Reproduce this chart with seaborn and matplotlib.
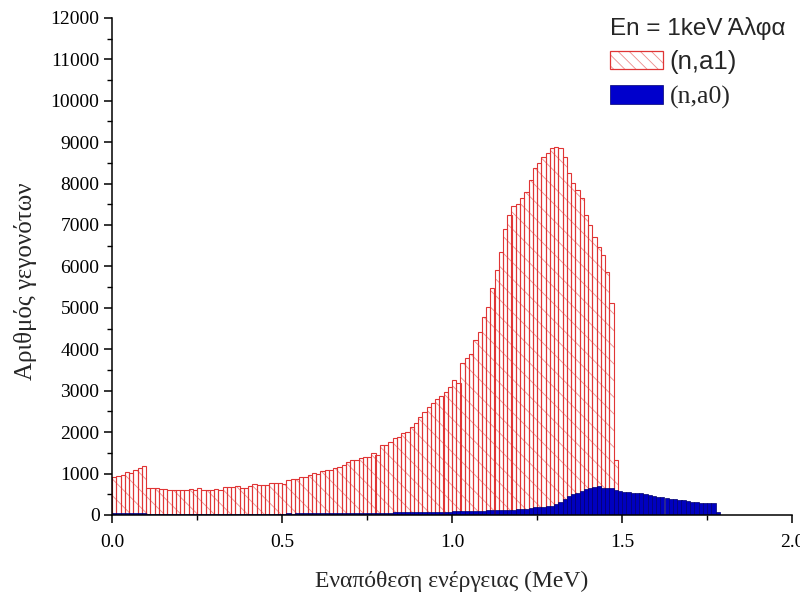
import numpy as np
import pandas as pd
import matplotlib
matplotlib.use("Agg")
import matplotlib.pyplot as plt
import seaborn as sns
from matplotlib.patches import Patch
from matplotlib.legend_handler import HandlerTuple
from matplotlib.ticker import MultipleLocator, FormatStrFormatter

# ---------------- data ----------------
bin_width = 0.0125  # MeV

# (n,a1) counts per bin, starting at 0 MeV
a1_counts = [
    920, 940, 965, 1045, 1010, 1095, 1125, 1175,
    660, 650, 640, 620, 615, 600, 610, 605, 600, 610, 615, 600, 650, 610, 605, 610, 620, 610,
    670, 680, 665, 690, 660, 650, 700, 745, 720, 730, 725, 770, 765, 780, 750, 850, 870, 880,
    925, 920, 960, 1010, 1000, 1050, 1090, 1080, 1130, 1165,
    1210, 1285, 1320, 1330, 1370, 1390, 1410, 1495, 1450, 1690, 1700, 1750, 1850, 1880, 1980,
    2010, 2130, 2220, 2370, 2490, 2610, 2700, 2800, 2870, 2980, 3100, 3260, 3190, 3670, 3790,
    3890, 4220, 4420, 4780, 5020, 5480, 5910, 6350, 6900, 7250, 7450, 7500, 7650, 7800,
    8090, 8380, 8500, 8640, 8740, 8860, 8880, 8860, 8640, 8260, 8010, 7850, 7650, 7240, 7000,
    6710, 6470, 6280, 5870, 5120, 1330,
]

# (n,a0) counts per bin, starting at 0 MeV
a0_counts = [
    45, 50, 40, 55, 50, 45, 55, 50,
    25, 20, 22, 18, 20, 24, 22, 20, 25, 23, 22, 26, 24, 25, 28, 24, 26, 27, 25, 28, 30, 27,
    29, 30, 32, 28, 31, 33, 30, 34, 32, 35, 33,
    36, 34, 38, 37, 40, 38, 41, 42, 40, 44, 43, 45, 47, 46, 48, 50, 49, 52, 51, 54, 53, 56,
    55, 58, 57, 60, 62, 61, 64, 63, 66, 68,
    70, 72, 71, 75, 78, 80, 82, 85, 84, 88, 90, 94, 96, 100, 104, 108, 112, 116,
    120, 122, 125, 130, 133, 140, 150, 165, 185, 190, 200, 210, 220, 260, 310, 390, 450, 500,
    540, 585, 620, 650, 680, 700, 645, 660, 640, 600, 575, 560, 545, 540, 520, 530, 515, 490,
    470, 440, 430, 400, 385, 375, 365, 355, 330, 320, 310, 300, 290, 285, 280, 80,
]

series_labels = ["(n,a1)", "(n,a0)"]
legend_title = "En = 1keV Άλφα"
x_label = "Εναπόθεση ενέργειας (MeV)"
y_label = "Αριθμός γεγονότων"

# ---------------- style ----------------
sns.set_theme(style="ticks")
plt.rcParams["font.family"] = ["Liberation Serif", "DejaVu Serif"]
plt.rcParams["hatch.linewidth"] = 0.6

red = "#e03535"
pale = "#ec8c8c"
blue_face = "#0000c0"
blue_edge = "#000070"
hatch = "\\" * 2

fig = plt.figure(figsize=(8, 5.95), dpi=100)
ax = fig.add_axes([0.14, 0.1345, 0.85, 0.8355])

n1 = len(a1_counts)
df1 = pd.DataFrame({"E": (np.arange(n1) + 0.5) * bin_width, "N": a1_counts})
# hatch layer (pale) then outline layer (red)
sns.histplot(data=df1, x="E", weights="N", binwidth=bin_width,
             binrange=(0, n1 * bin_width), ax=ax, element="bars",
             fill=True, facecolor="white", edgecolor=pale, linewidth=0,
             hatch=hatch, alpha=1)
sns.histplot(data=df1, x="E", weights="N", binwidth=bin_width,
             binrange=(0, n1 * bin_width), ax=ax, element="bars",
             fill=True, facecolor="none", edgecolor=red, linewidth=0.8, alpha=1)

n0 = len(a0_counts)
df0 = pd.DataFrame({"E": (np.arange(n0) + 0.5) * bin_width, "N": a0_counts})
sns.histplot(data=df0, x="E", weights="N", binwidth=bin_width,
             binrange=(0, n0 * bin_width), ax=ax, element="bars",
             fill=True, facecolor=blue_face, edgecolor=blue_edge, linewidth=0.5,
             alpha=1)

ax.set_xlim(0, 2.0)
ax.set_ylim(0, 12000)
ax.xaxis.set_major_locator(MultipleLocator(0.5))
ax.xaxis.set_minor_locator(MultipleLocator(0.25))
ax.yaxis.set_major_locator(MultipleLocator(1000))
ax.yaxis.set_minor_locator(MultipleLocator(500))
ax.xaxis.set_major_formatter(FormatStrFormatter("%.1f"))
ax.tick_params(which="major", direction="out", length=6, width=1.1, colors="black",
               labelsize=14, pad=3)
ax.tick_params(which="minor", direction="out", length=3.5, width=1.0, colors="black")
ax.tick_params(axis="x", which="major", pad=8)

sns.despine(ax=ax)
for s in ("left", "bottom"):
    ax.spines[s].set_linewidth(1.1)
    ax.spines[s].set_color("black")

ax.set_xlabel(x_label, fontsize=17, labelpad=14)
ax.set_ylabel(y_label, fontsize=18)
ax.yaxis.set_label_coords(-0.111, 0.47)
ax.grid(False)

h_hatch = Patch(facecolor="white", edgecolor=pale, hatch="\\" * 3, linewidth=0)
h_edge = Patch(facecolor="none", edgecolor=red, linewidth=0.9)
h_blue = Patch(facecolor="#0000cc", edgecolor=blue_edge, linewidth=0.5)
leg = ax.legend([(h_hatch, h_edge), h_blue], series_labels, title=legend_title,
                handler_map={tuple: HandlerTuple(ndivide=1, pad=0)},
                loc="upper left", bbox_to_anchor=(0.763, 0.971),
                bbox_transform=fig.transFigure,
                frameon=False, fontsize=18.5, title_fontsize=17.5,
                handlelength=2.05, handleheight=0.75, handletextpad=0.25,
                labelspacing=0.42, borderaxespad=0, borderpad=0)
leg._legend_box.align = "left"
leg._legend_box.sep = 7
leg.get_title().set_family(["Liberation Sans", "DejaVu Sans"])
leg.get_texts()[0].set_family(["Liberation Sans", "DejaVu Sans"])
leg.get_texts()[1].set_family(["Liberation Serif", "DejaVu Serif"])

fig.savefig("out.png", dpi=100)
